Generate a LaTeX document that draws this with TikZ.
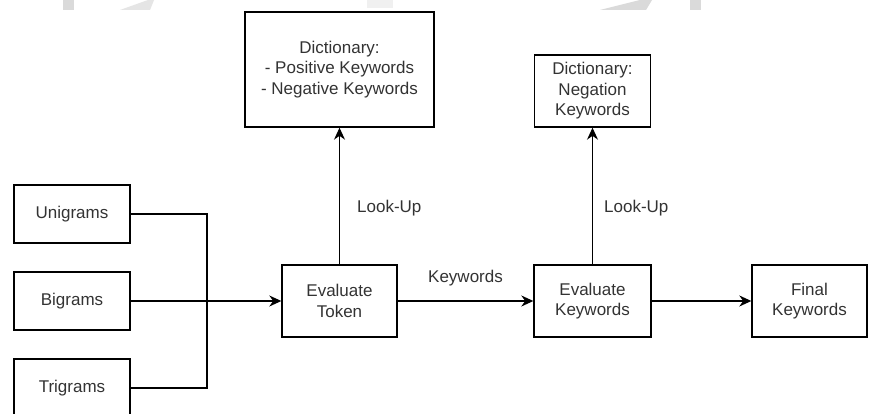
\documentclass[tikz,border=0pt]{standalone}
\usepackage{fontspec}
\setmainfont{Liberation Sans}
\usetikzlibrary{arrows.meta}
\definecolor{txt}{HTML}{333333}
\definecolor{wmgray}{HTML}{DADADA}
\tikzset{
  box/.style={draw=black, line width=1.4pt, fill=white, inner sep=0pt,
    align=center, text=txt, font=\fontsize{17}{20.5}\selectfont},
  link/.style={draw=black, line width=1.4pt},
  flow/.style={link, -{Stealth[length=12pt,width=11pt]}},
  lbl/.style={text=txt, font=\fontsize{17}{20.5}\selectfont, inner sep=0pt}
}
\begin{document}
\begin{tikzpicture}[x=1pt,y=-1pt]
\useasboundingbox[fill=white] (0,0) rectangle (870,414);
% faint marks along the top edge
\fill[wmgray] (63,0) rectangle (74,10);
\fill[wmgray!70] (120,10) -- (148,0) -- (154,0) -- (150,10) -- cycle;
\fill[wmgray!40] (367,0) rectangle (393,8);
\fill[wmgray] (600,10) -- (640,0) -- (652,0) -- (646,10) -- cycle;
\fill[wmgray] (690,0) rectangle (701,10);

% input n-gram sets
\node[box, minimum width=116pt, minimum height=58pt] (uni) at (72,214) {Unigrams};
\node[box, minimum width=116pt, minimum height=58pt] (bi)  at (72,301) {Bigrams};
\node[box, minimum width=116pt, minimum height=58pt] (tri) at (72,388) {Trigrams};

% processing chain
\node[box, minimum width=115pt, minimum height=72pt] (tok) at (339.5,301) {Evaluate\\Token};
\node[box, minimum width=117pt, minimum height=72pt] (evk) at (592.5,301) {Evaluate\\Keywords};
\node[box, minimum width=115pt, minimum height=72pt] (fin) at (809.5,301) {Final\\Keywords};

% dictionaries
\node[box, minimum width=189pt, minimum height=115pt] (dict1) at (339.5,69.5)
  {Dictionary:\\- Positive Keywords\\- Negative Keywords};
\node[box, minimum width=116pt, minimum height=72pt] (dict2) at (592.5,91)
  {Dictionary:\\Negation\\Keywords};

% merge of the three inputs
\coordinate (join) at (207,301);
\draw[link] (uni.east) -| (join);
\draw[link] (tri.east) -| (join);
\draw[flow] (bi.east) -- (tok.west);

% main flow
\draw[flow] (tok.east) -- node[lbl, above=14pt] {Keywords} (evk.west);
\draw[flow] (evk.east) -- (fin.west);

% dictionary look-ups
\draw[flow] (tok.north) -- node[lbl, right=17pt, pos=0.41] {Look-Up} (dict1.south);
\draw[flow] (evk.north) -- node[lbl, right=11pt, pos=0.41] {Look-Up} (dict2.south);
\end{tikzpicture}
\end{document}
